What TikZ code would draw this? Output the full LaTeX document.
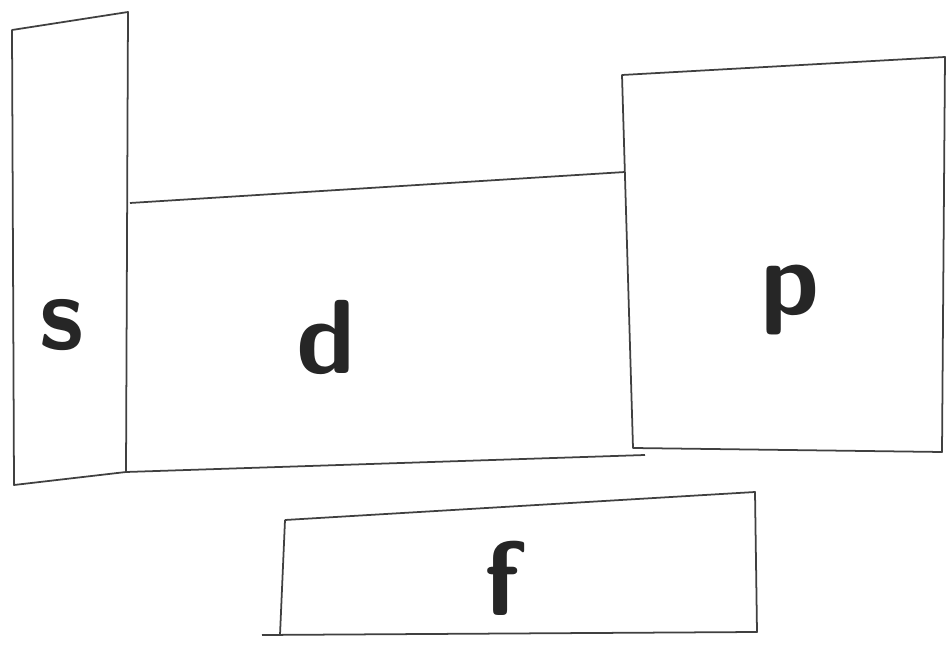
\documentclass[tikz,border=0pt]{standalone}
\usepackage{tikz}

\begin{document}
\begin{tikzpicture}[x=0.02cm, y=-0.02cm, every node/.style={font=\sffamily\bfseries\fontsize{60}{60}\selectfont, text=black!85}, edge/.style={draw=black!75, line width=1pt, line join=round}]
				\useasboundingbox (0,0) rectangle (947,651);
				% s block
				\draw[edge] (12,30) -- (128,12) -- (126,472) -- (14,485) -- cycle;
				% d block (its right side is the left side of p)
				\draw[edge] (130,203) -- (625,172);
				\draw[edge] (126,472) -- (645,455);
				% p block
				\draw[edge] (622,75) -- (945,57) -- (942,452) -- (633,448) -- cycle;
				% f block
				\draw[edge] (285,520) -- (755,492) -- (757,632) -- (262,635);
				\draw[edge] (285,520) -- (280,635);
				\node (s) at (62,325) {s};
				\node (d) at (326,338) {d};
				\node (p) at (790,300) {p};
				\node (f) at (502,578) {f};
			\end{tikzpicture}
\end{document}
